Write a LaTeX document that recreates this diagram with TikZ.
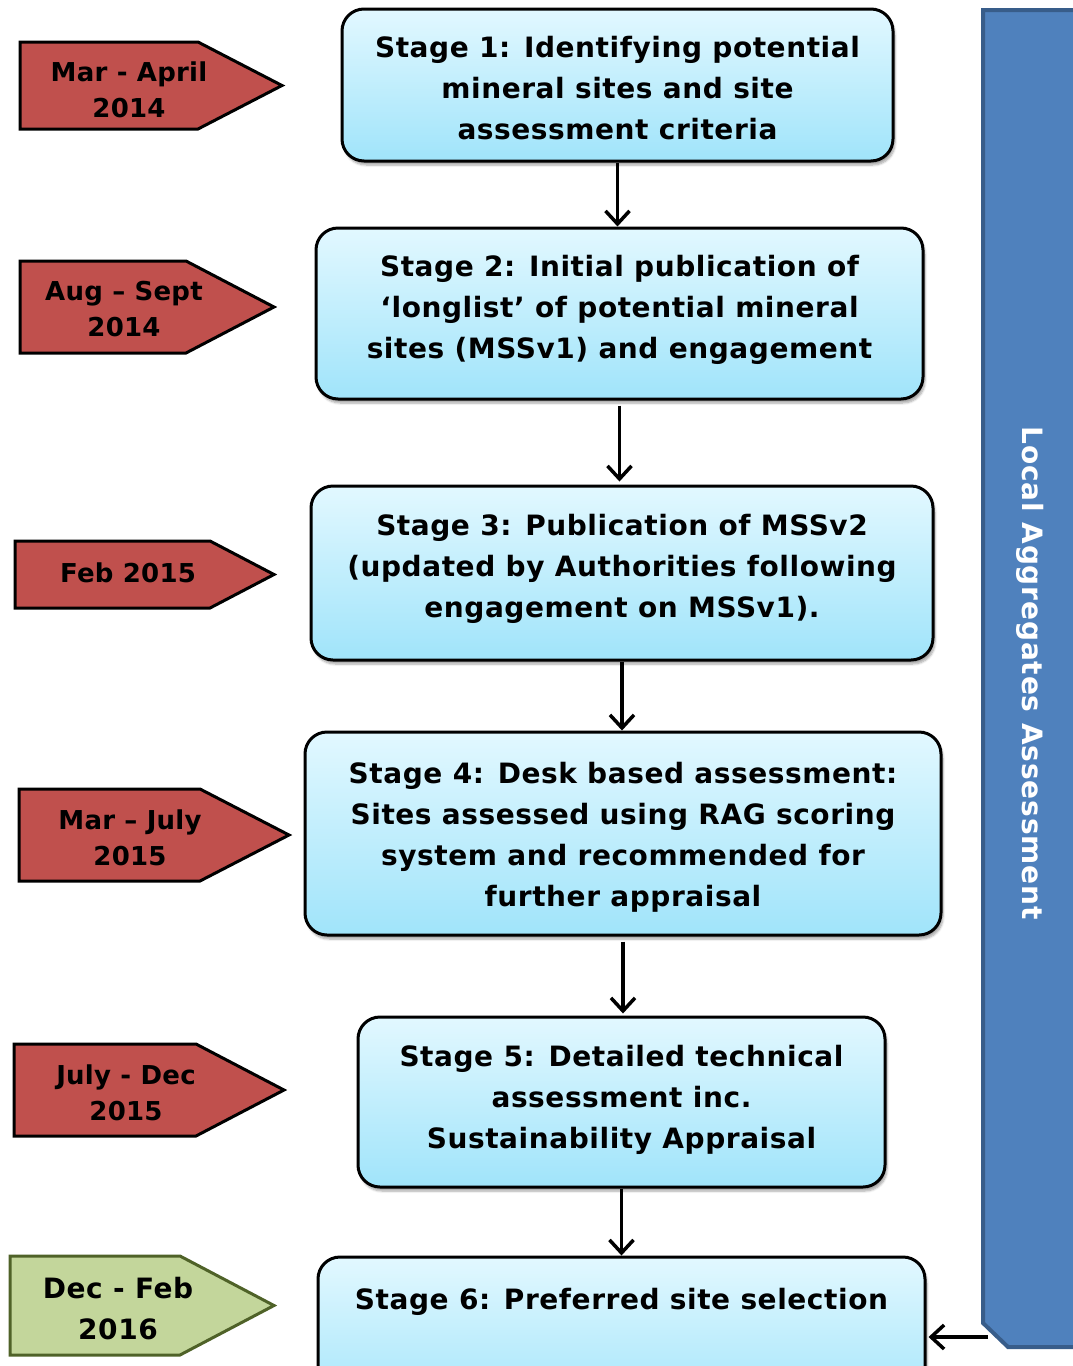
\documentclass[tikz,border=0pt]{standalone}
\usepackage{fontspec}
\setmainfont{DejaVu Sans}
\usetikzlibrary{arrows.meta,shadows.blur}
\definecolor{tagred}{HTML}{C0504D}
\definecolor{taggreen}{HTML}{C3D69B}
\definecolor{taggreenline}{HTML}{4F6228}
\definecolor{barblue}{HTML}{4F81BD}
\definecolor{barline}{HTML}{385D8A}
\definecolor{boxtop}{RGB}{226,248,255}
\definecolor{boxbot}{RGB}{160,228,250}
\begin{document}
\begin{tikzpicture}[x=1pt,y=-1pt,
  stagebox/.style={draw=black, line width=3pt, rounded corners=22pt,
    top color=boxtop, bottom color=boxbot, inner sep=0pt,
    blur shadow={shadow xshift=2pt, shadow yshift=-4pt, shadow blur steps=6, shadow opacity=35}},
  stagetext/.style={align=center, inner sep=0pt, font=\fontsize{28}{41}\selectfont\bfseries\addfontfeature{LetterSpace=2}},
  redtag/.style={draw=black, line width=3pt, fill=tagred, line join=miter},
  greentag/.style={draw=taggreenline, line width=3pt, fill=taggreen, line join=miter},
  tagtext/.style={align=center, inner sep=0pt, font=\fontsize{26}{36}\selectfont\bfseries\addfontfeature{LetterSpace=1}},
  arr/.style={line width=3.5pt, -{Straight Barb[length=13pt,width=24pt,line width=3.5pt]}},
  bar/.style={fill=barblue, draw=barline, line width=4pt},
  bartext/.style={text=white, inner sep=0pt, font=\fontsize{28}{34}\selectfont\bfseries\addfontfeature{LetterSpace=3}}
]
\clip (0,0) rectangle (1073,1366);
% right bar
\draw[bar] (983,10) -- (1090,10) -- (1090,1347) -- (1008,1347) -- (983,1323) -- cycle;
\node[bartext, rotate=-90] (lab) at (1030,673) {Local Aggregates Assessment};
% stage boxes
\node[stagebox, minimum width=551pt, minimum height=152pt] (s1) at (617.5,85) {};
\node[stagetext] (s1t) at (617.5,88.5)
  {Stage 1: Identifying potential\\mineral sites and site\\assessment criteria};
\node[stagebox, minimum width=607pt, minimum height=171pt] (s2) at (619.5,313.5) {};
\node[stagetext] (s2t) at (619.5,310)
  {Stage 2: Initial publication of\\‘longlist’ of potential mineral\\sites (MSSv1) and engagement};
\node[stagebox, minimum width=622pt, minimum height=174pt] (s3) at (622,573) {};
\node[stagetext] (s3t) at (622,569)
  {Stage 3: Publication of MSSv2\\(updated by Authorities following\\engagement on MSSv1).};
\node[stagebox, minimum width=636pt, minimum height=203pt] (s4) at (623,833.5) {};
\node[stagetext] (s4t) at (623,837.5)
  {Stage 4: Desk based assessment:\\Sites assessed using RAG scoring\\system and recommended for\\further appraisal};
\node[stagebox, minimum width=527pt, minimum height=170pt] (s5) at (621.5,1102) {};
\node[stagetext] (s5t) at (621.5,1100)
  {Stage 5: Detailed technical\\assessment inc.\\Sustainability Appraisal};
\node[stagebox, minimum width=607pt, minimum height=163pt] (s6) at (621.5,1338.5) {};
\node[stagetext] (s6t) at (621.5,1302) {Stage 6: Preferred site selection};
% arrows
\draw[arr] (s1.south) -- (s1.south |- s2.north);
\draw[arr] ([yshift=-5pt]s2.south) -- ([yshift=3pt]s2.south |- s3.north);
\draw[arr] (s3.south) -- (s3.south |- s4.north);
\draw[arr] ([yshift=-5pt]s4.south) -- ([yshift=2pt]s4.south |- s5.north);
\draw[arr] (s5.south) -- (s5.south |- s6.north);
\coordinate (barpt) at (988,1337);
\draw[arr] (barpt) -- ([xshift=2pt]s6.east |- barpt);
% date tags
\draw[redtag] (20,42) -- (198,42) -- (282,85.5) -- (198,129) -- (20,129) -- cycle;
\node[tagtext] (d1) at (129,90) {Mar - April\\2014};
\draw[redtag] (20,261) -- (186,261) -- (274,307) -- (186,353) -- (20,353) -- cycle;
\node[tagtext] (d2) at (124,309.5) {Aug – Sept\\2014};
\draw[redtag] (15,541) -- (210,541) -- (274,574.5) -- (210,608) -- (15,608) -- cycle;
\node[tagtext] (d3) at (128,573) {Feb 2015};
\draw[redtag] (19,789) -- (200,789) -- (289,835) -- (200,881) -- (19,881) -- cycle;
\node[tagtext] (d4) at (130,838) {Mar – July\\2015};
\draw[redtag] (14,1044) -- (196,1044) -- (284,1090) -- (196,1136) -- (14,1136) -- cycle;
\node[tagtext] (d5) at (126,1092.5) {July - Dec\\2015};
\draw[greentag] (10,1256) -- (180,1256) -- (274,1305.5) -- (180,1355) -- (10,1355) -- cycle;
\node[tagtext, font=\fontsize{28}{41}\selectfont\bfseries\addfontfeature{LetterSpace=2}] (d6) at (118,1308.5) {Dec - Feb\\2016};
\end{tikzpicture}
\end{document}
